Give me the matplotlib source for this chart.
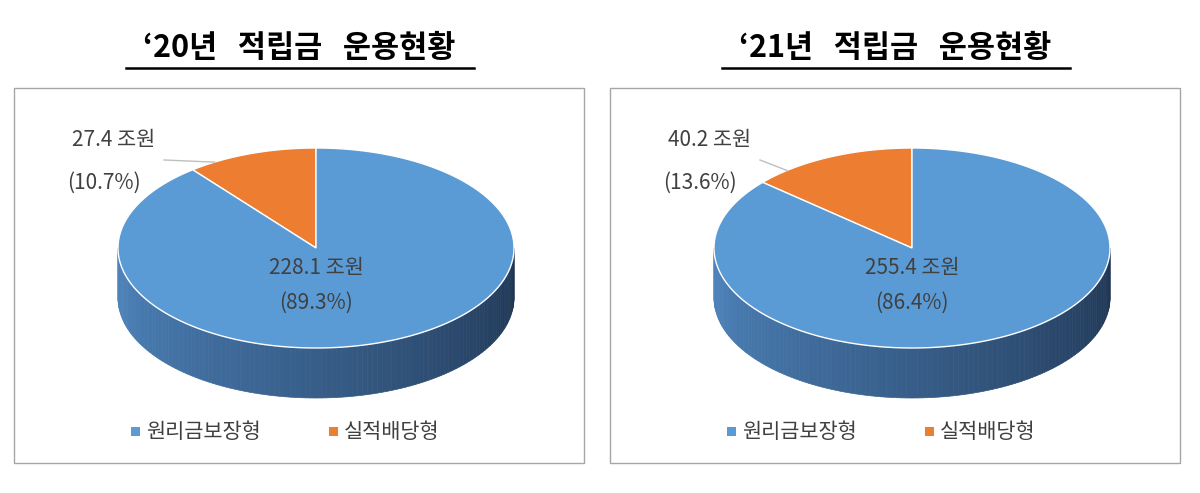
import numpy as np
import matplotlib.pyplot as plt
from matplotlib.patches import Polygon, Rectangle
from matplotlib.colors import to_rgb

plt.rcParams['font.family'] = ['Noto Sans CJK KR', 'DejaVu Sans']

titles = ["‘20년   적립금   운용현황", "‘21년   적립금   운용현황"]
amounts_guar = [228.1, 255.4]
amounts_perf = [27.4, 40.2]
pct_guar = [89.3, 86.4]
pct_perf = [10.7, 13.6]
legend_labels = ["원리금보장형", "실적배당형"]

BLUE = "#5b9bd5"
ORANGE = "#ed7d31"
TXT = "#404040"

fig = plt.figure(figsize=(12, 4.93), dpi=100)
ax = fig.add_axes([0, 0, 1, 1])
ax.set_xlim(0, 1200)
ax.set_ylim(493, 0)
ax.axis("off")


def ell(cx, cy, rx, ry, a):
    return cx + rx * np.cos(a), cy - ry * np.sin(a)


def draw_panel(x0, i):
    cx, cy, rx, ry, depth = x0 + 302, 248, 198, 100, 50
    # box
    ax.add_patch(Rectangle((x0, 88), 570, 375, fill=False, ec="#a6a6a6", lw=1))
    # title, underline spans the text
    ax.text(x0 + 285, 48, titles[i], ha="center", va="center", fontsize=22,
            fontweight="bold", color="black")
    ax.plot([x0 + 112, x0 + 460], [68, 68], color="black", lw=1.8)

    # side band with gradient strips (front half)
    c1, c2 = np.array(to_rgb("#4f86bf")), np.array(to_rgb("#1f3552"))
    angs = np.linspace(np.pi, 2 * np.pi, 121)
    for k in range(len(angs) - 1):
        a0, a1 = angs[k], angs[k + 1]
        xa, ya = ell(cx, cy, rx, ry, a0)
        xb, yb = ell(cx, cy, rx, ry, a1)
        t = k / (len(angs) - 2)
        col = c1 * (1 - t) + c2 * t
        ax.add_patch(Polygon([[xa, ya], [xb, yb], [xb, yb + depth], [xa, ya + depth]],
                             closed=True, fc=col, ec=col, lw=0.5))

    # top wedges: orange from 12 o'clock counterclockwise
    start = np.pi / 2
    span_o = 2 * np.pi * pct_perf[i] / 100
    a = np.linspace(start, start + span_o, 60)
    xs, ys = ell(cx, cy, rx, ry, a)
    ax.add_patch(Polygon(np.column_stack([np.r_[cx, xs], np.r_[cy, ys]]), fc=ORANGE, ec="white", lw=1))
    a = np.linspace(start + span_o, start + 2 * np.pi, 300)
    xs, ys = ell(cx, cy, rx, ry, a)
    ax.add_patch(Polygon(np.column_stack([np.r_[cx, xs], np.r_[cy, ys]]), fc=BLUE, ec="white", lw=1))

    # inside labels
    ax.text(cx, 268, f"{amounts_guar[i]} 조원", ha="center", va="center", fontsize=15, color=TXT)
    ax.text(cx, 303, f"({pct_guar[i]}%)", ha="center", va="center", fontsize=15, color=TXT)

    # outside labels with leader
    ax.text(x0 + 100, 140, f"{amounts_perf[i]} 조원", ha="center", va="center", fontsize=15, color=TXT)
    ax.text(x0 + 90, 183, f"({pct_perf[i]}%)", ha="center", va="center", fontsize=15, color=TXT)
    ex, ey = ell(cx, cy, rx, ry, start + span_o * 0.8)
    ax.plot([x0 + 150, ex], [160, ey], color="#bfbfbf", lw=1)

    # legend
    ax.add_patch(Rectangle((x0 + 117, 427), 9, 9, fc=BLUE, ec="none"))
    ax.text(x0 + 132, 432, legend_labels[0], va="center", fontsize=15, color=TXT)
    ax.add_patch(Rectangle((x0 + 315, 427), 9, 9, fc=ORANGE, ec="none"))
    ax.text(x0 + 330, 432, legend_labels[1], va="center", fontsize=15, color=TXT)


draw_panel(14, 0)
draw_panel(610, 1)

fig.savefig("out.png", dpi=100, facecolor="white")
